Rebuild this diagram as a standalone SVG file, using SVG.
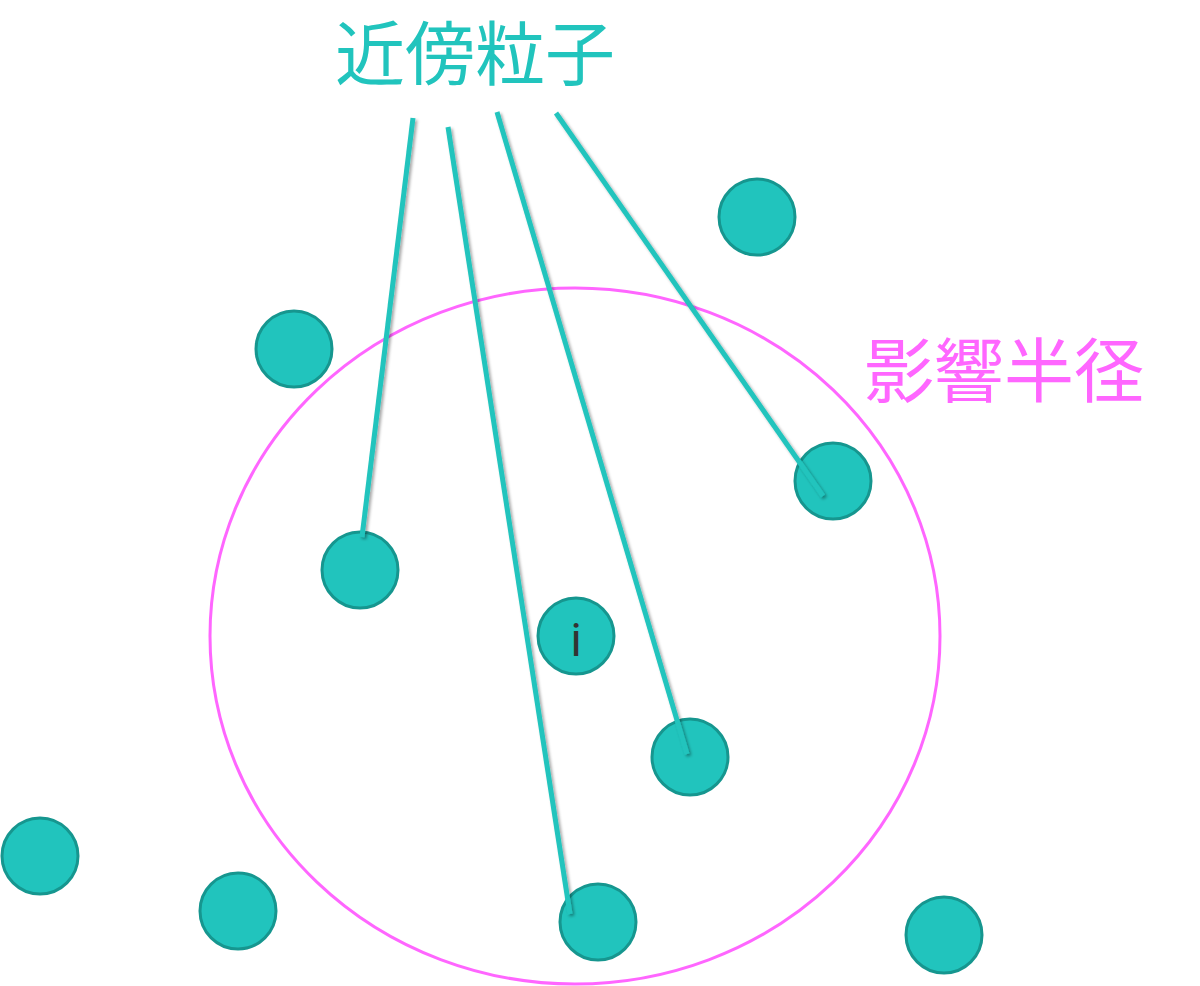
<svg xmlns="http://www.w3.org/2000/svg" width="1200" height="986" viewBox="0 0 1200 986">
<style>
.p{fill:#21c4bd;stroke:#16968f;stroke-width:3}
.c{stroke:#21c4bd;stroke-width:5;fill:none;stroke-linecap:butt}
.t{font-family:"Noto Sans CJK JP","Noto Sans CJK SC",sans-serif}
</style>
<defs><filter id="sh" x="-20%" y="-20%" width="140%" height="140%"><feDropShadow dx="2" dy="2" stdDeviation="1.5" flood-color="#000" flood-opacity="0.35"/></filter></defs>
<rect width="1200" height="986" fill="#fff"/>
<g id="radius"><ellipse cx="575" cy="636" rx="365" ry="348" fill="none" stroke="#ff66ff" stroke-width="3"/></g>
<g id="p1"><circle class="p" cx="757" cy="217" r="38"/></g>
<g id="p2"><circle class="p" cx="294" cy="349" r="38"/></g>
<g id="p3"><circle class="p" cx="833" cy="481" r="38"/></g>
<g id="p4"><circle class="p" cx="360" cy="570" r="38"/></g>
<g id="pi"><circle class="p" cx="576" cy="636" r="38"/><text x="576" y="656" text-anchor="middle" font-family="Roboto,sans-serif" font-size="46" fill="#333">i</text></g>
<g id="p5"><circle class="p" cx="690" cy="757" r="38"/></g>
<g id="p6"><circle class="p" cx="40" cy="856" r="38"/></g>
<g id="p7"><circle class="p" cx="238" cy="911" r="38"/></g>
<g id="p8"><circle class="p" cx="598" cy="922" r="38"/></g>
<g id="p9"><circle class="p" cx="944" cy="935" r="38"/></g>
<g id="connectors" filter="url(#sh)">
<line class="c" x1="413" y1="118" x2="362" y2="537"/>
<line class="c" x1="448" y1="127" x2="570" y2="914"/>
<line class="c" x1="497" y1="112" x2="687" y2="754"/>
<line class="c" x1="556" y1="113" x2="823" y2="496"/>
</g>
<g id="label1"><text class="t" x="475" y="80" text-anchor="middle" font-size="70" fill="#21c4bd">近傍粒子</text></g>
<g id="label2"><text class="t" x="1004" y="397" text-anchor="middle" font-size="70" fill="#ff66ff">影響半径</text></g>
</svg>
